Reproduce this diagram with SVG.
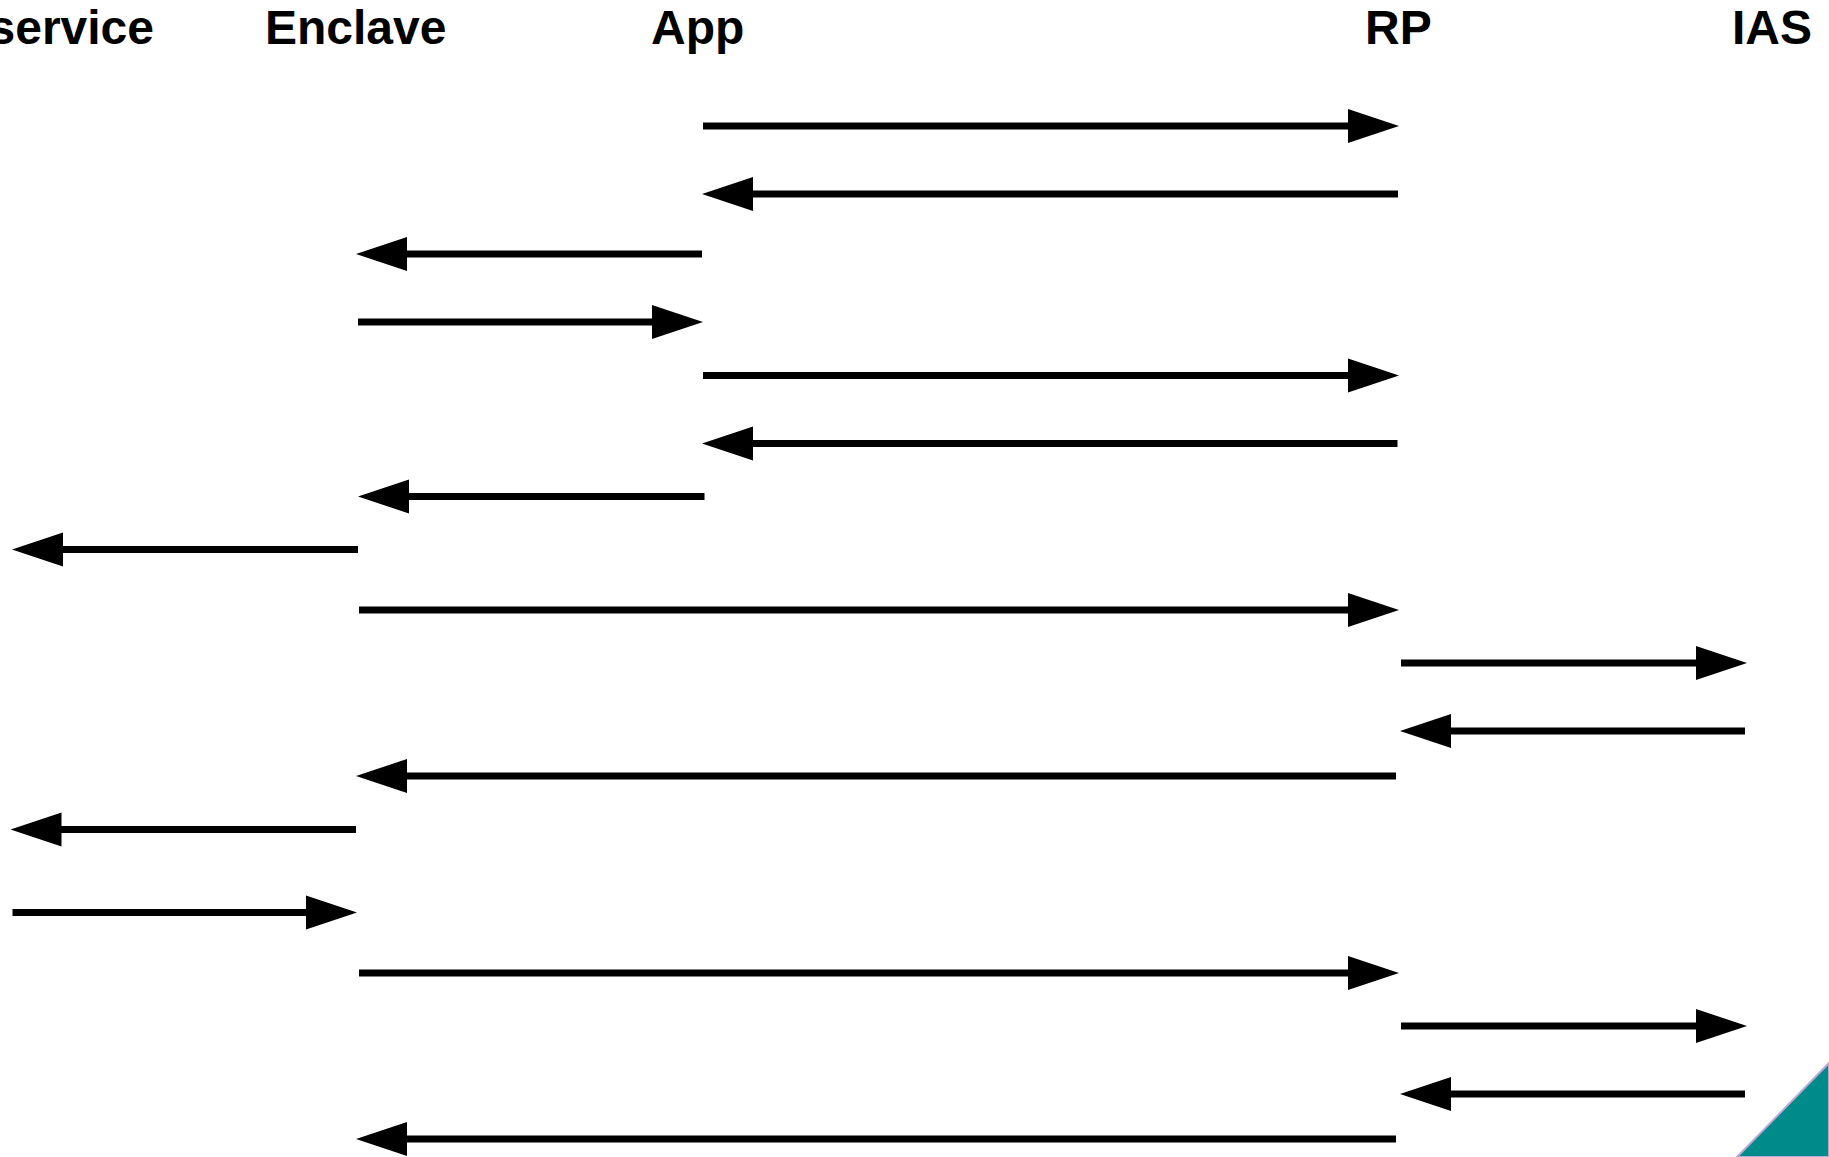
<svg xmlns="http://www.w3.org/2000/svg" width="1829" height="1157" viewBox="0 0 1829 1157">
<style>
.lbl{font-family:"Liberation Sans",Arial,sans-serif;font-weight:bold;font-size:48px;fill:#000}
.msg{stroke:#000;stroke-width:7;fill:none;marker-end:url(#ah)}
</style>
<defs>
<marker id="ah" markerUnits="userSpaceOnUse" markerWidth="52" markerHeight="36" refX="2" refY="18" orient="auto" overflow="visible">
<path d="M0,1 L51,18 L0,35 Z" fill="#000"/>
</marker>
</defs>
<rect width="1829" height="1157" fill="#fff"/>
<g id="node-service"><text class="lbl" x="154" y="44" text-anchor="end">service</text></g>
<g id="node-enclave"><text class="lbl" x="265" y="44">Enclave</text></g>
<g id="node-app"><text class="lbl" x="651" y="44">App</text></g>
<g id="node-rp"><text class="lbl" x="1365" y="44">RP</text></g>
<g id="node-ias"><text class="lbl" x="1732" y="44">IAS</text></g>
<g id="connectors">
<line class="msg" x1="703" y1="126" x2="1350" y2="126"/>
<line class="msg" x1="1398" y1="194" x2="751" y2="194"/>
<line class="msg" x1="702" y1="254" x2="405" y2="254"/>
<line class="msg" x1="358" y1="322" x2="654" y2="322"/>
<line class="msg" x1="703" y1="375.5" x2="1350" y2="375.5"/>
<line class="msg" x1="1397.5" y1="443.5" x2="751" y2="443.5"/>
<line class="msg" x1="704.5" y1="496.5" x2="407" y2="496.5"/>
<line class="msg" x1="358" y1="549.5" x2="61" y2="549.5"/>
<line class="msg" x1="359" y1="610" x2="1350" y2="610"/>
<line class="msg" x1="1401" y1="663" x2="1698" y2="663"/>
<line class="msg" x1="1745" y1="731" x2="1449" y2="731"/>
<line class="msg" x1="1396" y1="776" x2="405" y2="776"/>
<line class="msg" x1="356" y1="829.5" x2="59.5" y2="829.5"/>
<line class="msg" x1="12.5" y1="912.5" x2="308" y2="912.5"/>
<line class="msg" x1="359" y1="973" x2="1350" y2="973"/>
<line class="msg" x1="1401" y1="1026" x2="1698" y2="1026"/>
<line class="msg" x1="1745" y1="1094" x2="1449" y2="1094"/>
<line class="msg" x1="1396" y1="1139" x2="405" y2="1139"/>
</g>
<polygon points="1737,1157 1829,1063 1829,1157" fill="#008b8b" stroke="#b9a9d6" stroke-width="2"/>
</svg>
